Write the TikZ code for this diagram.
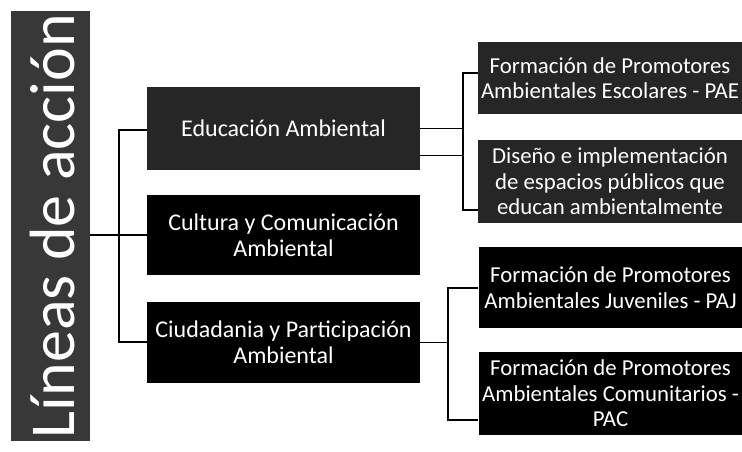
\documentclass[tikz,border=0pt]{standalone}
\usepackage{fontspec}
\setmainfont{Carlito}
\begin{document}
\begin{tikzpicture}[x=1pt,y=-1pt,
  box/.style={rectangle, fill=#1, draw=none, inner sep=0pt},
  box/.default=black,
  txt/.style={text=white, align=center, inner sep=0pt, font=\fontsize{24}{26}\selectfont},
  rtxt/.style={txt, font=\fontsize{22.8}{25.5}\selectfont},
  conn/.style={draw=black, line width=1.6pt}]
\useasboundingbox[fill=white] (0,0) rectangle (742,452);
% left title box
\node[box=black!78, minimum width=79pt, minimum height=430pt] (l) at (50.5,226) {};
\node[text=white, rotate=90, inner sep=0pt, font=\fontsize{64}{66}\selectfont] at ([xshift=2pt]l.center) {Líneas de acción};
% middle boxes
\node[box=black!85, minimum width=273pt, minimum height=83pt] (ea) at (283.5,128.5) {};
\node[txt] at (ea) {Educación Ambiental};
\node[box, minimum width=273pt, minimum height=80pt] (cc) at (283.5,235) {};
\node[txt] at (cc) {Cultura y Comunicación\\Ambiental};
\node[box, minimum width=273pt, minimum height=81pt] (cp) at (283.5,342.5) {};
\node[txt] at (cp) {Ciudadania y Participación\\Ambiental};
% right boxes
\node[box=black!85, minimum width=264pt, minimum height=72pt] (pae) at (610,78) {};
\node[rtxt] at (pae) {Formación de Promotores\\Ambientales Escolares - PAE};
\node[box=black!85, minimum width=264pt, minimum height=83pt] (dis) at (610,181.5) {};
\node[rtxt] at (dis) {Diseño e implementación\\de espacios públicos que\\educan ambientalmente};
\node[box, minimum width=264pt, minimum height=81pt] (paj) at (610.5,287.5) {};
\node[rtxt] at (paj) {Formación de Promotores\\Ambientales Juveniles - PAJ};
\node[box, minimum width=264pt, minimum height=83pt] (pac) at (610.5,393.5) {};
\node[rtxt] at (pac) {Formación de Promotores\\Ambientales Comunitarios -\\PAC};
% left connectors
\coordinate (m1) at (119,130);
\coordinate (m2) at (119,342);
\draw[conn] (ea.west |- m1) -- (m1) -- (m2) -- (cp.west |- m2);
\draw[conn] (l.east |- cc) -- (cc.west);
% upper right connectors
\coordinate (j1) at (463,73);
\coordinate (j2) at (463,210);
\coordinate (ea2) at ([yshift=-27pt]ea.east);
\draw[conn] (pae.west |- j1) -- (j1) -- (j2) -- (dis.west |- j2);
\draw[conn] (ea.east) -- (ea.east -| j1);
\draw[conn] (ea2) -- (ea2 -| j1);
% lower right connectors
\coordinate (k1) at (448,288);
\coordinate (k2) at (448,420);
\draw[conn] (paj.west |- k1) -- (k1) -- (k2) -- (pac.west |- k2);
\draw[conn] (cp.east) -- (cp.east -| k1);
\end{tikzpicture}
\end{document}
